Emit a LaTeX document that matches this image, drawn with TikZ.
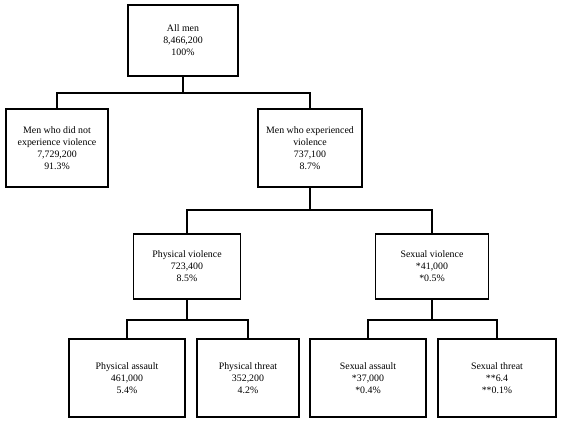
\documentclass[tikz,border=0pt]{standalone}
\usepackage{fontspec}
\setmainfont{Liberation Serif}
\usepackage{tikz}

\begin{document}
\begin{tikzpicture}[x=0.75pt,y=-0.75pt]
    \tikzset{box/.style = {shape=rectangle, draw, line width=0.8pt, align=center, inner sep=0pt, font=\fontsize{7.4}{9}\selectfont}}
    \tikzset{edge/.style = {draw, line width=0.8pt, -}}
    \useasboundingbox (0,0) rectangle (561,423);

    % vertices
    \node[box, minimum width=82.5pt, minimum height=53.25pt] (a) at (183,40.5) {All men\\8,466,200\\100\%};
    \node[box, minimum width=76.5pt, minimum height=58.5pt] (n) at (57,148) {Men who did not\\experience violence\\7,729,200\\91.3\%};
    \node[box, minimum width=78pt, minimum height=58.5pt] (v) at (310,148) {Men who experienced\\violence\\737,100\\8.7\%};
    \node[box, minimum width=80.25pt, minimum height=48.75pt] (pv) at (187,266.5) {Physical violence\\723,400\\8.5\%};
    \node[box, minimum width=84.75pt, minimum height=48.75pt] (sv) at (432,266.5) {Sexual violence\\*41,000\\*0.5\%};
    \node[box, minimum width=87pt, minimum height=58.5pt] (pa) at (127,378) {Physical assault\\461,000\\5.4\%};
    \node[box, minimum width=76.5pt, minimum height=58.5pt] (pt) at (248,378) {Physical threat\\352,200\\4.2\%};
    \node[box, minimum width=87pt, minimum height=58.5pt] (sa) at (368,378) {Sexual assault\\*37,000\\*0.4\%};
    \node[box, minimum width=88.5pt, minimum height=58.5pt] (st) at (497,378) {Sexual threat\\**6.4\\**0.1\%};

    % junctions
    \coordinate (j1) at (183,93);
    \coordinate (j2) at (310,210);
    \coordinate (j3) at (187,320);
    \coordinate (j4) at (432,320);

    % edges
    \draw[edge] (a) -- (j1);
    \draw[edge] (j1) -| (n);
    \draw[edge] (j1) -| (v);
    \draw[edge] (v) -- (j2);
    \draw[edge] (j2) -| (pv);
    \draw[edge] (j2) -| (sv);
    \draw[edge] (pv) -- (j3);
    \draw[edge] (j3) -| (pa);
    \draw[edge] (j3) -| (pt);
    \draw[edge] (sv) -- (j4);
    \draw[edge] (j4) -| (sa);
    \draw[edge] (j4) -| (st);
\end{tikzpicture}
\end{document}
